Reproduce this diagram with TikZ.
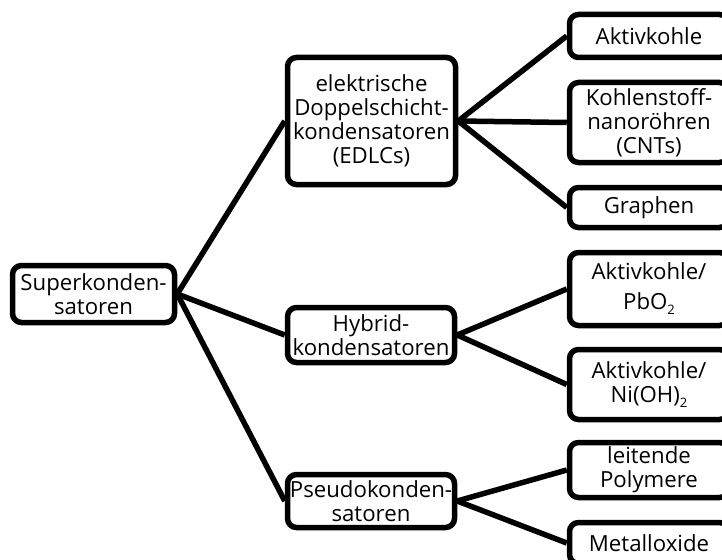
\documentclass[tikz,border=0pt]{standalone}
\usepackage{fontspec}
\setmainfont{Open Sans}
\newcommand\chemsub[1]{\raisebox{-5pt}{\fontsize{13}{13}\selectfont #1}}
\begin{document}
\begin{tikzpicture}[x=1pt,y=-1pt,
  box/.style={draw, line width=5.5pt, rounded corners=9pt, align=center, inner sep=0pt,
    font=\fontsize{22.2}{24}\selectfont},
  right box/.style={box, minimum width=159pt},
  conn/.style={line width=5.5pt}]
\useasboundingbox (0,0) rectangle (722,559);
% level 0
\node[box, minimum width=162pt, minimum height=57pt] (s) at (93.5,294) {Superkonden-\\satoren};
% level 1
\node[box, minimum width=168pt, minimum height=127pt] (e) at (371.5,121) {elektrische\\Doppelschicht-\\kondensatoren\\(EDLCs)};
\node[box, minimum width=167pt, minimum height=55pt] (h) at (371,335) {Hybrid-\\kondensatoren};
\node[box, minimum width=167pt, minimum height=53pt] (p) at (371,501) {Pseudokonden-\\satoren};
% level 2
\node[right box, minimum height=43pt] (a1) at (649,36) {Aktivkohle};
\node[right box, minimum height=80pt] (k) at (649,122.5) {Kohlenstoff-\\nanoröhren\\(CNTs)};
\node[right box, minimum height=40pt] (g) at (649,207.5) {Graphen};
\node[right box, minimum height=73pt] (pb) at (649,289) {Aktivkohle/\\[6pt]PbO\chemsub{2}};
\node[right box, minimum height=70pt] (ni) at (649,384.5) {Aktivkohle/\\Ni(OH)\chemsub{2}};
\node[right box, minimum height=55pt] (po) at (649,470) {leitende\\Polymere};
\node[right box, minimum height=41pt] (mo) at (649,543) {Metalloxide};
% connectors
\draw[conn] (s.east) -- (e.west);
\draw[conn] (s.east) -- (h.west);
\draw[conn] (s.east) -- (p.west);
\draw[conn] (e.east) -- (a1.west);
\draw[conn] (e.east) -- (k.west);
\draw[conn] (e.east) -- (g.west);
\draw[conn] (h.east) -- (pb.west);
\draw[conn] (h.east) -- (ni.west);
\draw[conn] (p.east) -- (po.west);
\draw[conn] (p.east) -- (mo.west);
\end{tikzpicture}
\end{document}
